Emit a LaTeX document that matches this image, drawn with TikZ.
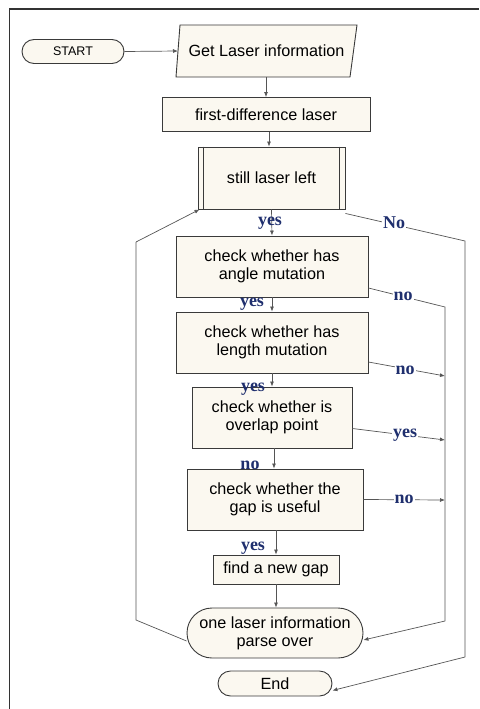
\documentclass[tikz,border=0pt]{standalone}
\usepackage{fontspec}
\setmainfont{Liberation Sans}
\newfontfamily\lblfont{Liberation Serif}
\usetikzlibrary{shapes.geometric,shapes.misc,arrows.meta}
\definecolor{boxfill}{HTML}{FBF8F0}
\definecolor{boxline}{HTML}{3A3A3A}
\definecolor{lblblue}{HTML}{1F2F6E}
\definecolor{conn}{HTML}{555555}
\tikzset{
  box/.style={draw=boxline, fill=boxfill, line width=0.9pt, align=center, font=\fontsize{16.2}{18}\selectfont, inner sep=0pt},
  term/.style={box, rounded rectangle},
  lbl/.style={font=\lblfont\bfseries\fontsize{18}{20}\selectfont, text=lblblue, inner sep=1pt, fill=white},
  conn/.style={draw=conn, line width=0.7pt, -{Latex[length=5pt,width=4pt]}},
  line/.style={draw=conn, line width=0.7pt},
}
\begin{document}
\begin{tikzpicture}[x=1pt,y=-1pt]
\useasboundingbox (0,0) rectangle (479,709);
\draw[line width=1.6pt, draw=black!80] (9.5,709) -- (9.5,9) -- (479,9);
% nodes
\node[term, minimum width=102pt, minimum height=24pt, font=\fontsize{12.5}{14}\selectfont] (start) at (73,51.5) {START};
\draw[box] (180,25) -- (357,25) -- (350,77) -- (176,77) -- cycle;
\node[inner sep=0pt, font=\fontsize{16.2}{18}\selectfont] (get) at (266.5,51) {Get Laser information};
\coordinate (getw) at (178,51);
\coordinate (gets) at (266,77);
\node[box, minimum width=208pt, minimum height=34pt] (fd) at (266,114.5) {first-difference laser};
\node[box, minimum width=147pt, minimum height=62pt] (still) at (271.5,178) {still laser left};
\draw[line width=0.7pt, draw=boxline] ([xshift=6pt]still.north west) -- ([xshift=6pt]still.south west)
  ([xshift=-6pt]still.north east) -- ([xshift=-6pt]still.south east);
\node[box, minimum width=192pt, minimum height=61pt] (ang) at (272,266.5) {check whether has\\angle mutation};
\node[box, minimum width=192pt, minimum height=61pt] (len) at (272,342.5) {check whether has\\length mutation};
\node[box, minimum width=160pt, minimum height=61pt] (ovl) at (272,417.5) {check whether is\\overlap point};
\node[box, minimum width=176pt, minimum height=61pt] (gap) at (275,499.5) {check whether the\\gap is useful};
\node[box, minimum width=126pt, minimum height=29pt] (new) at (276,569.5) {find a new gap};
\node[term, minimum width=176pt, minimum height=50pt] (parse) at (275,633) {one laser information\\parse over};
\node[term, minimum width=114pt, minimum height=25pt] (end) at (275,683.5) {End};
% coordinates
\coordinate (rA) at (465,241);
\coordinate (rB) at (465,657);
\coordinate (lA) at (136,620);
\coordinate (lB) at (136,242);
\coordinate (mA) at (445,307);
\coordinate (mB) at (445,621);
\coordinate (m2) at (445,376);
\coordinate (m3) at (445,440);
\coordinate (m4) at (445,500);
% connectors
\draw[conn] (start.east) -- (getw);
\draw[conn] (gets) -- (fd.north -| gets);
\draw[conn] ([xshift=3pt]fd.south) -- ([xshift=3pt]fd.south |- still.north);
\draw[conn] (still.south) -- (ang.north);
\draw[conn] (ang.south) -- (len.north);
\draw[conn] (len.south) -- (ovl.north);
\draw[conn] ([xshift=2pt]ovl.south) -- ([xshift=2pt]ovl.south |- gap.north);
\draw[conn] ([xshift=1pt]gap.south) -- ([xshift=1pt]gap.south |- new.north);
\draw[conn] (new.south) -- (new.south |- parse.north);
% No path
\draw[line] ([yshift=-4pt]still.south east) -- (rA) -- (rB);
\draw[conn] (rB) -- ([yshift=-7pt]end.east);
% loop left
\draw[line] ([yshift=-8pt]parse.west) -- (lA) -- (lB);
\draw[conn] (lB) -- ([xshift=2pt]still.south west);
% right collector
\draw[line] ([yshift=-21.5pt]ang.east) -- (mA) -- (mB);
\draw[conn] (mB) -- ([yshift=-7pt]parse.east);
\draw[conn] ([yshift=-19.5pt]len.east) -- (m2);
\draw[conn] ([yshift=-11pt]ovl.east) -- (m3);
\draw[conn] (gap.east) -- (m4);
% labels
\node[lbl, fill=none] at (270,223) {yes};
\node[lbl] at (394,223) {No};
\node[lbl, fill=none] at (252,304) {yes};
\node[lbl] at (403,296) {no};
\node[lbl] at (405,370) {no};
\node[lbl, fill=none] at (253,389) {yes};
\node[lbl] at (405,435) {yes};
\node[lbl, fill=none] at (250,465) {no};
\node[lbl] at (404,499) {no};
\node[lbl, fill=none] at (253,548) {yes};
\end{tikzpicture}
\end{document}
